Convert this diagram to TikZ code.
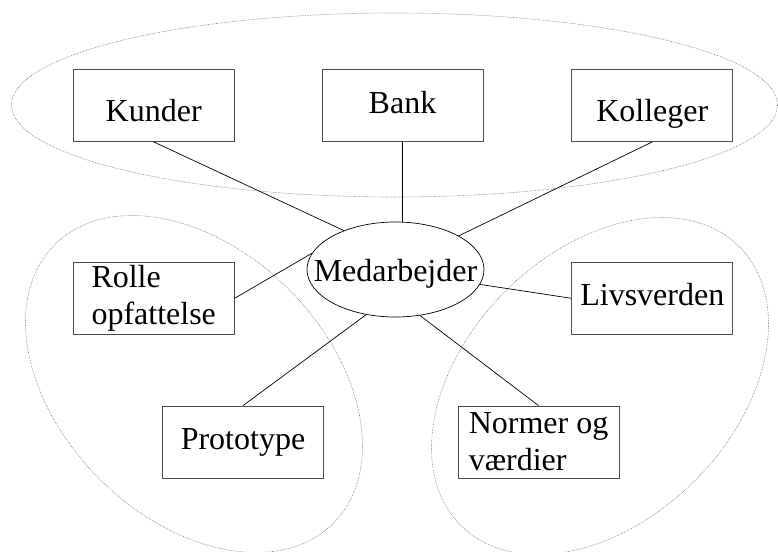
\documentclass[tikz,border=0pt]{standalone}
\usepackage{fontspec}
\setmainfont{Liberation Serif}
\usetikzlibrary{positioning,shapes.geometric}

\begin{document}
\begin{tikzpicture}[
      x=1pt, y=-1pt,
      every node/.style={font=\fontsize{32}{37}\selectfont},
      box/.style={draw=black!70, line width=0.8pt, minimum width=161pt, minimum height=72pt, inner sep=0pt},
      oneline/.style={text height=22pt, text depth=7pt},
      lowline/.style={text height=38pt, text depth=7pt},
      group/.style={draw=black!55, densely dotted, line width=0.6pt},
      link/.style={line width=0.7pt}
  ]
      \useasboundingbox (0,0) rectangle (778,551);

      % dotted groups
      \draw[group] (394.5,105) ellipse [x radius=383pt, y radius=92pt];
      \draw[group, rotate around={-45:(194,384)}] (194,384) ellipse [x radius=197pt, y radius=134pt];
      \draw[group, rotate around={45:(600,386)}] (600,386) ellipse [x radius=197pt, y radius=134pt];

      \node[ellipse, draw, line width=0.7pt, minimum width=177pt, minimum height=95pt, inner sep=0pt,
            label={[yshift=-4pt]center:Medarbejder}] (medarb) at (395.5,269.5) {};

      \node[box, oneline] (bank) at (402.5,105.5) {Bank};
      \node[box, lowline, left=87pt of bank] (kunder) {Kunder};
      \node[box, lowline, right=88pt of bank] (kolleger) {Kolleger};
      \node[box, align=left, below=120pt of kunder] (rolle) {Rolle\\opfattelse};
      \node[box, oneline, below=120pt of kolleger] (livs) {Livsverden};
      \node[box, oneline] (proto) at (243,442) {Prototype};
      \node[box, align=left] (normer) at (538.5,442) {Normer og\\værdier};

      \draw[link] (kunder.south) -- (medarb.143);
      \draw[link] (bank.south) -- (bank.south |- medarb.north);
      \draw[link] (kolleger.south) -- (medarb.28);
      \draw[link] (rolle.east) -- (medarb.169);
      \draw[link] (medarb.350) -- (livs.west);
      \draw[link] (proto.north) -- (medarb.237);
      \draw[link] (medarb.298) -- (normer.north);
  \end{tikzpicture}
\end{document}
